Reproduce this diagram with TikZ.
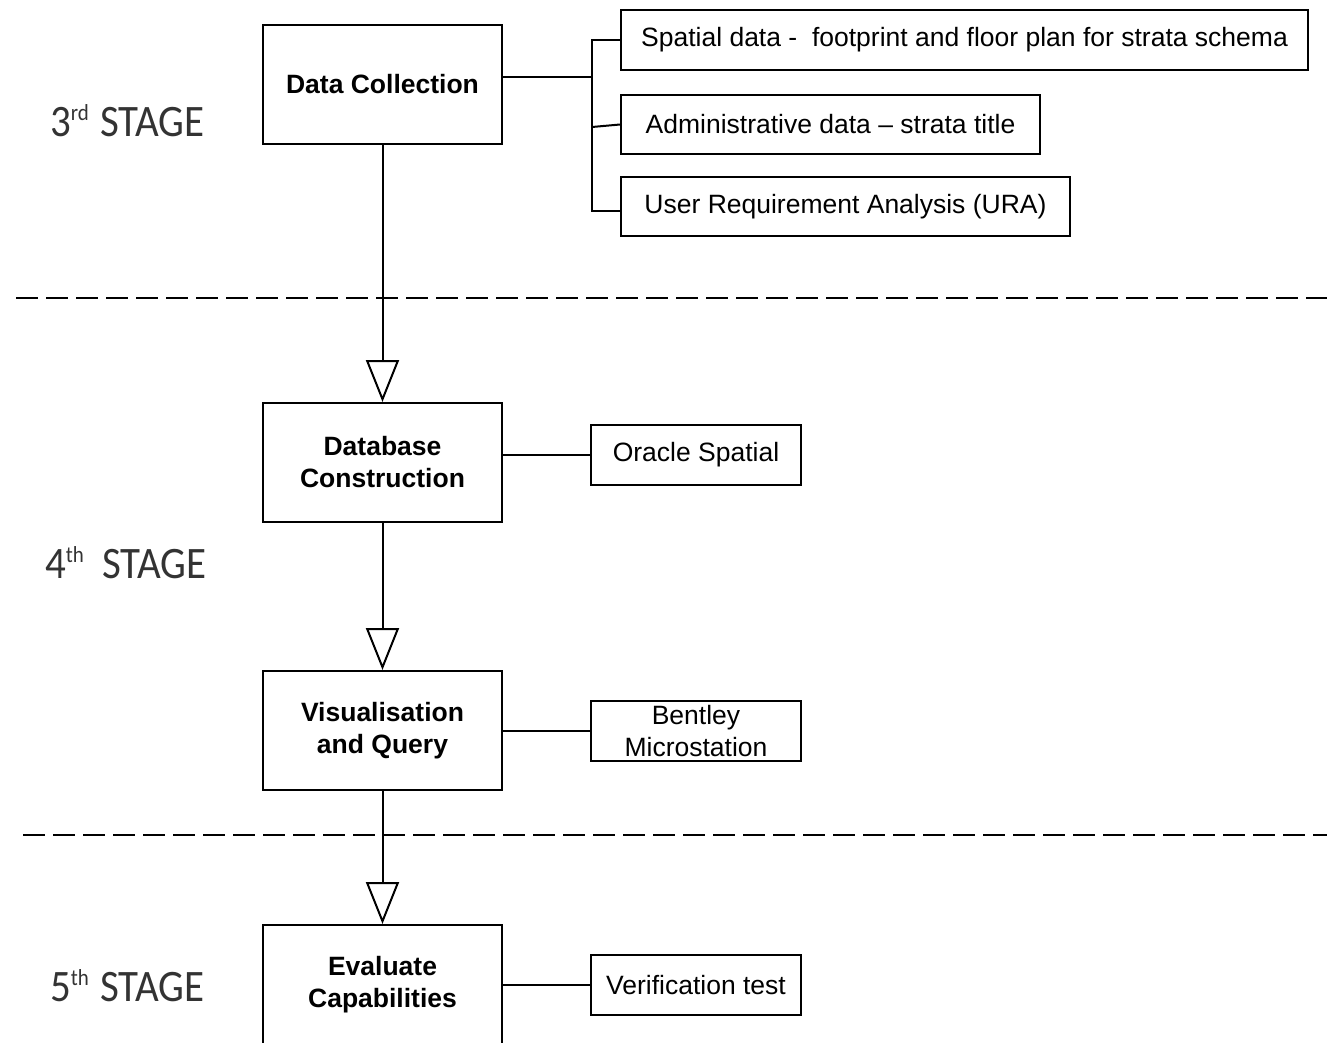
\documentclass[tikz,border=0pt]{standalone}
\usepackage{fontspec}
\setmainfont{Liberation Sans}
\newfontfamily\stagefont[FakeStretch=0.91]{Carlito}
\usetikzlibrary{arrows.meta}
\newcommand\stagesup[1]{\raisebox{16pt}{\fontsize{23}{23}\selectfont #1}}
\begin{document}
\begin{tikzpicture}[x=1pt,y=-1pt,
  mainbox/.style={draw, line width=2pt, minimum width=239pt, minimum height=119pt, inner sep=0pt, align=center, font=\bfseries\fontsize{26.5}{32}\selectfont},
  subbox/.style={draw, line width=2pt, inner sep=0pt, align=center, font=\fontsize{26.5}{32}\selectfont},
  conn/.style={line width=2pt, line join=miter},
  flow/.style={line width=2pt, -{Triangle[open, length=42pt, width=33pt]}},
  sep/.style={line width=2.5pt, dash pattern=on 22pt off 8pt},
  stage/.style={anchor=base west, inner sep=0pt, font=\stagefont\fontsize{45}{54}\selectfont, text=black!80}]
\useasboundingbox (0,0) rectangle (1327,1042);
\clip (0,0) rectangle (1327,1042);

% main boxes
\node[mainbox] (dc) at (382.5,84.5) {Data Collection};
\node[mainbox] (db) at (382.5,462.5) {Database\\Construction};
\node[mainbox] (vq) at (382.5,730.5) {Visualisation\\and Query};
\node[mainbox] (ec) at (382.5,984.5) {Evaluate\\Capabilities};

% side boxes
\node[subbox, minimum width=687pt, minimum height=60pt] (s1) at (964.5,40) {Spatial data -\ \ footprint and floor plan for strata schema};
\node[subbox, minimum width=419pt, minimum height=59pt] (s2) at (830.5,124.5) {Administrative data -- strata title};
\node[subbox, minimum width=449pt, minimum height=59pt] (s3) at (845.5,206.5) {User Requirement Analysis (URA)};
\node[subbox, minimum width=210pt, minimum height=60pt] (os) at (696,455) {Oracle Spatial};
\node[subbox, minimum width=210pt, minimum height=60pt] (bm) at (696,731) {Bentley\\Microstation};
\node[subbox, minimum width=210pt, minimum height=60pt] (vt) at (696,985) {Verification test};

% bracket connectors
\coordinate (b0) at (592,77);
\coordinate (bmid) at (592,127);
\coordinate (bb) at (592,211);
\draw[conn] (b0 -| dc.east) -- (b0);
\draw[conn] (s1.west) -| (bb) -- (bb -| s3.west);
\draw[conn] (bmid) -- (s2.west);
\draw[conn] (os.west -| db.east) -- (os.west);
\draw[conn] (bm.west -| vq.east) -- (bm.west);
\draw[conn] (vt.west -| ec.east) -- (vt.west);

% flow arrows
\draw[flow] (dc.south) -- (db.north);
\draw[flow] (db.south) -- (vq.north);
\draw[flow] (vq.south) -- (ec.north);

% stage separators
\coordinate (d1a) at (16,298);
\coordinate (d1b) at (1327,298);
\coordinate (d2a) at (23,835);
\coordinate (d2b) at (1327,835);
\draw[sep] (d1a) -- (d1b);
\draw[sep] (d2a) -- (d2b);

% stage labels
\node[stage] (st3) at (50,136) {3\stagesup{rd}\hspace{2pt} STAGE};
\node[stage] (st4) at (45,578) {4\stagesup{th}\hspace{9pt} STAGE};
\node[stage] (st5) at (50,1001) {5\stagesup{th}\hspace{2pt} STAGE};
\end{tikzpicture}
\end{document}
